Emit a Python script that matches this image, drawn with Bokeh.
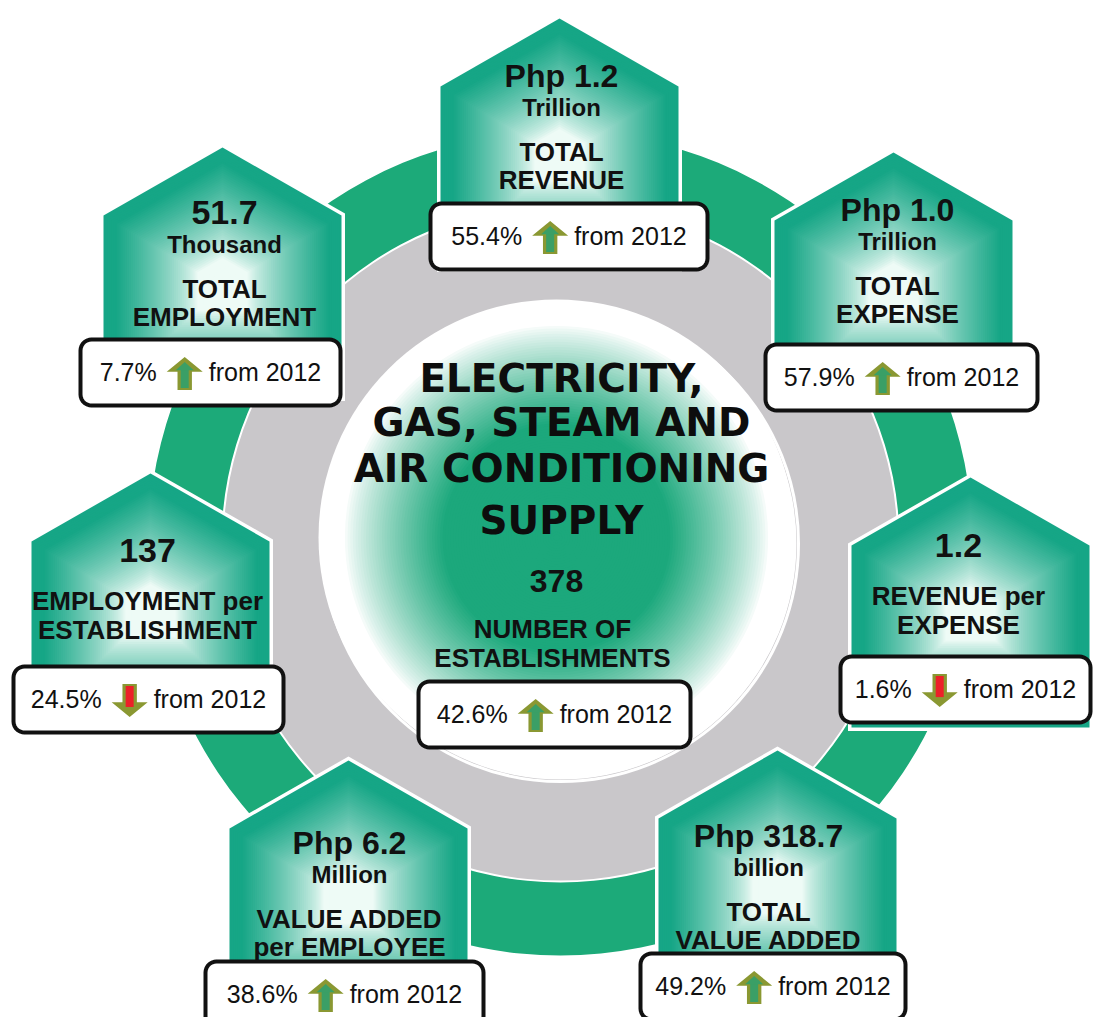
import numpy as np
from bokeh.plotting import figure
from bokeh.models import Range1d
from bokeh.embed import file_html
from bokeh.resources import INLINE
from bokeh.core.properties import value

# ---------------- data ----------------
card_values = ["Php 1.2", "51.7", "Php 1.0", "137", "1.2", "Php 6.2", "Php 318.7"]
card_units = ["Trillion", "Thousand", "Trillion", "", "", "Million", "billion"]
card_label1 = ["TOTAL", "TOTAL", "TOTAL", "EMPLOYMENT per", "REVENUE per", "VALUE ADDED", "TOTAL"]
card_label2 = ["REVENUE", "EMPLOYMENT", "EXPENSE", "ESTABLISHMENT", "EXPENSE", "per EMPLOYEE", "VALUE ADDED"]
card_change = [55.4, 7.7, 57.9, 24.5, 1.6, 38.6, 49.2]
card_dir = ["up", "up", "up", "down", "down", "up", "up"]
base_year = "2012"
center_title = ["ELECTRICITY,", "GAS, STEAM AND", "AIR CONDITIONING", "SUPPLY"]
center_value = "378"
center_label = ["NUMBER OF", "ESTABLISHMENTS"]
center_change = 42.6
center_dir = "up"

# ---------------- layout (pixel positions of the infographic) ----------------
W, H = 1093, 1017
card_cx = [559, 222, 893, 150, 970, 348, 777]
card_top = [18, 147, 152, 473, 477, 760, 750]
text_cx = [561, 224, 897, 147, 958, 349, 768]
val_base = [88, 225, 222, 563, 558, 855, 848]
box_base = [245, 381, 386, 708, 698, 1003, 995]
box_l = [430, 80, 765, 13, 840, 205, 640]
box_r = [707, 340, 1037, 283, 1090, 483, 905]
ring_c = (560, 543)
SHIFT = 0.38  # baseline correction (fraction of font size)

p = figure(width=W, height=H, x_range=Range1d(0, W), y_range=Range1d(H, 0),
           output_backend="svg", toolbar_location=None,
           x_axis_location=None, y_axis_location=None, min_border=0)
p.grid.visible = False
p.outline_line_color = None
p.background_fill_color = "white"
p.border_fill_color = "white"

FONT = value("Liberation Sans")
TITLE_FONT = value("DejaVu Sans")


def hexmix(a, b, t):
    c = np.array(a) * (1 - t) + np.array(b) * t
    return "#%02x%02x%02x" % tuple(int(round(v)) for v in c)


def txt(xs, ys, texts, size, bold=True, align="center", font=FONT, color="#111111"):
    p.text(x=list(xs), y=[y - SHIFT * size for y in ys], text=list(texts), text_font=font,
           text_font_style="bold" if bold else "normal", text_font_size="%dpx" % size,
           text_align=align, text_baseline="alphabetic", text_color=color)


# rings
p.annulus(x=[ring_c[0]], y=[ring_c[1]], inner_radius=339, outer_radius=412,
          fill_color="#1CAA79", line_color=None)
p.annulus(x=[ring_c[0]], y=[ring_c[1]], inner_radius=236, outer_radius=337,
          fill_color="#C9C7CA", line_color=None)

# center circle with radial gradient
green = (28, 168, 124)
white = (255, 255, 255)
R0 = 238
rs = np.linspace(R0, 3, 90)
cols = []
for r in rs:
    t = r / R0
    g = float(np.clip((0.9 - t) / 0.42, 0, 1)) ** 0.85
    cols.append(hexmix(white, green, g))
p.circle(x=[ring_c[0] - 4] * len(rs), y=[ring_c[1] - 6] * len(rs), radius=rs,
         fill_color=cols, line_color=None)
p.circle(x=[ring_c[0]], y=[ring_c[1]], radius=[R0], fill_color=None, line_color="white",
         line_width=3)

# pentagon cards with gradient
teal = (22, 166, 134)
light = (238, 251, 246)
PW, ROOF, PH = 238, 68, 250
for i in range(len(card_values)):
    cx, top = card_cx[i], card_top[i]
    vx = np.array([cx, cx + PW / 2, cx + PW / 2, cx - PW / 2, cx - PW / 2])
    vy = np.array([top, top + ROOF, top + PH, top + PH, top + ROOF])
    gx, gy = cx, top + 140
    xs, ys, fc = [], [], []
    for s in np.linspace(1.0, 0.03, 60):
        xs.append(list(gx + s * (vx - gx)))
        ys.append(list(gy + s * (vy - gy)))
        w = float(np.clip((s - 0.22) / 0.68, 0, 1)) ** 0.75
        fc.append(hexmix(light, teal, w))
    p.patches(xs=[xs[0]], ys=[ys[0]], fill_color=fc[0], line_color="white", line_width=7,
              line_join="miter")
    p.patches(xs=xs, ys=ys, fill_color=fc, line_color=None)


def rounded_rect(l, r, t, b, rad=11, n=8):
    px, py = [], []
    for (ccx, ccy, a0) in [(l + rad, t + rad, np.pi), (r - rad, t + rad, 1.5 * np.pi),
                           (r - rad, b - rad, 0.0), (l + rad, b - rad, 0.5 * np.pi)]:
        for a in np.linspace(a0, a0 + 0.5 * np.pi, n):
            px.append(ccx + rad * np.cos(a))
            py.append(ccy + rad * np.sin(a))
    return px, py


ARIAL = {"0": .556, "1": .556, "2": .556, "3": .556, "4": .556, "5": .556, "6": .556,
         "7": .556, "8": .556, "9": .556, ".": .278, "%": .889}


def text_w(s, size):
    return sum(ARIAL.get(c, .556) for c in s) * size


def draw_change(l, r, base, pct, direction):
    bx, by = rounded_rect(l, r, base - 42, base + 24)
    p.patches(xs=[bx], ys=[by], fill_color="white", line_color="#111111", line_width=4,
              line_join="round")
    fs = 25
    pct_s = "%.1f%%" % pct
    pw = text_w(pct_s, fs)
    fw = 4.502 * fs
    aw, ah = 36, 33
    gw = pw + 10 + aw + 6 + fw
    x0 = (l + r) / 2 - gw / 2
    txt([x0], [base], [pct_s], fs, bold=False, align="left")
    acx = x0 + pw + 10 + aw / 2
    acy = base - 8
    hx = [0, aw / 2, aw * 0.2, aw * 0.2, -aw * 0.2, -aw * 0.2, -aw / 2]
    hy = [-ah / 2, -ah / 2 + 0.45 * ah, -ah / 2 + 0.45 * ah, ah / 2, ah / 2,
          -ah / 2 + 0.45 * ah, -ah / 2 + 0.45 * ah]
    ax = [acx + v for v in hx]
    ay = [acy + (v if direction == "up" else -v) for v in hy]
    p.patches(xs=[ax], ys=[ay], fill_color="#8A9832", line_color=None)
    if direction == "up":
        p.quad(left=[acx - 4], right=[acx + 4], top=[acy - ah * 0.22], bottom=[acy + ah / 2 - 2],
               fill_color="#3A9F66", line_color=None)
        tx = [acx, acx + 9, acx - 9]
        ty = [acy - ah / 2 + 5, acy - ah * 0.1, acy - ah * 0.1]
        p.patches(xs=[tx], ys=[ty], fill_color="#3A9F66", line_color=None)
    else:
        p.quad(left=[acx - 4], right=[acx + 4], top=[acy - ah / 2 + 2], bottom=[acy + ah * 0.2],
               fill_color="#EC2029", line_color=None)
    txt([x0 + pw + 10 + aw + 6], [base], ["from " + base_year], fs, bold=False, align="left")


# card texts
for i in range(len(card_values)):
    tx = text_cx[i]
    vb = val_base[i]
    has_unit = card_units[i] != ""
    vsize = 32 if card_values[i].startswith("Php") else 34
    txt([tx], [vb], [card_values[i]], vsize)
    if has_unit:
        txt([tx], [vb + 28], [card_units[i]], 24)
        l1, l2 = vb + 73, vb + 101
    else:
        l1, l2 = vb + 47, vb + 76
    txt([tx, tx], [l1, l2], [card_label1[i], card_label2[i]], 26)
    draw_change(box_l[i], box_r[i], box_base[i], card_change[i], card_dir[i])

# center texts
title_base = [393, 437, 483, 535]
txt([561] * 4, title_base, center_title, 39, font=TITLE_FONT, color="#0d0d0d")
txt([556], [593], [center_value], 32)
txt([552, 552], [638, 667], center_label, 26)
draw_change(418, 690, 723, center_change, center_dir)

open("out.html", "w").write(file_html(p, INLINE))
